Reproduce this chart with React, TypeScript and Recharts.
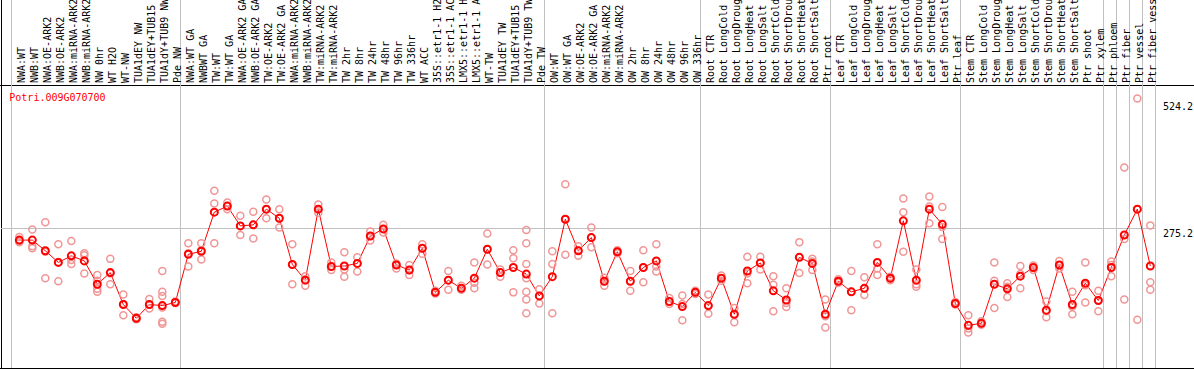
import { ComposedChart, Line, Scatter, XAxis, YAxis, ReferenceLine } from 'recharts'

// ─── Data ─────────────────────────────────────────────────────────────────────

const nwLabels = [
  'NWA:WT', 'NWB:WT', 'NWA:OE-ARK2', 'NWB:OE-ARK2', 'NWA:miRNA-ARK2', 'NWB:miRNA-ARK2',
  'NW 0hr', 'WT H2O', 'WT-NW', 'TUA1dEY NW', 'TUA1dEY+TUB15 NW', 'TUA1dY+TUB9 NW', 'Pde NW',
]
const nwMeans = [252, 252, 231, 208, 221, 211, 165, 188, 125, 98, 125, 123, 129]
const nwReps = [
  [258, 250, 248], [273, 240, 236], [287, 229, 177], [244, 209, 171], [250, 213, 205],
  [226, 222, 186], [183, 172, 156, 150], [215, 186, 165], [145, 126, 104], [100, 97, 96],
  [136, 125, 117], [191, 150, 142, 119, 91, 87], [131, 129, 128],
]

const twLabels = [
  'NWA:WT GA', 'NWBWT GA', 'TW:WT', 'TW:WT GA', 'NWA:OE-ARK2 GA', 'NWB:OE-ARK2 GA',
  'TW:OE-ARK2', 'TW:OE-ARK2 GA', 'NWA:miRNA-ARK2', 'NWB:miRNA-ARK2', 'TW:miRNA-ARK2',
  'TW:miRNA-ARK2', 'TW 2hr', 'TW 8hr', 'TW 24hr', 'TW 48hr', 'TW 96hr', 'TW 336hr', 'WT ACC',
  '35S::etr1-1 H2O', '35S::etr1-1 ACC', 'LMX5::etr1-1 H2O', 'LMX5::etr1-1 ACC', 'WT-TW',
  'TUA1dEY TW', 'TUA1dEY+TUB15 TW', 'TUA1dY+TUB9 TW', 'Pde TW',
]
const twMeans = [
  224, 230, 307, 319, 280, 282, 313, 295, 204, 173, 313, 200, 201, 206,
  260, 274, 203, 193, 236, 149, 173, 157, 177, 234, 188, 198, 185, 142,
]
const twReps = [
  [246, 226, 200], [246, 232, 214], [349, 324, 246], [326, 319, 313], [300, 280, 262],
  [308, 282, 255], [332, 313, 295], [313, 295, 277], [244, 204, 165], [181, 175, 162],
  [322, 313, 306], [208, 200, 193], [228, 194, 180], [218, 206, 190], [269, 260, 251],
  [282, 274, 267], [206, 203, 196], [203, 193, 183], [244, 236, 225], [152, 149, 147],
  [191, 173, 154], [162, 157, 154], [208, 168, 157], [265, 234, 204], [194, 188, 180],
  [232, 216, 149], [272, 246, 205, 177, 150, 135, 108], [155, 142, 127],
]

const owLabels = [
  'OW:WT', 'OW:WT GA', 'OW:OE-ARK2', 'OW:OE-ARK2 GA', 'OW:miRNA-ARK2', 'OW:miRNA-ARK2',
  'OW 2hr', 'OW 8hr', 'OW 24hr', 'OW 48hr', 'OW 96hr', 'OW 336hr',
]
const owMeans = [180, 293, 231, 257, 171, 229, 171, 198, 211, 131, 121, 149]
const owReps = [
  [230, 205, 108], [362, 293, 223], [240, 231, 221], [277, 257, 238], [178, 171, 162],
  [232, 229, 226], [191, 171, 152], [232, 198, 169], [244, 200, 190], [138, 131, 126],
  [143, 126, 94], [152, 149, 146],
]

const rootLabels = [
  'Root CTR', 'Root LongCold', 'Root LongDrought', 'Root LongHeat', 'Root LongSalt',
  'Root ShortCold', 'Root ShortDrought', 'Root ShortHeat', 'Root ShortSalt', 'Ptr root',
]
const rootMeans = [123, 177, 106, 191, 207, 152, 134, 218, 206, 106]
const rootReps = [
  [145, 122, 107], [182, 177, 172], [118, 106, 90], [219, 186, 167], [219, 207, 194],
  [181, 164, 112], [157, 128, 120], [248, 218, 187], [215, 210, 193], [135, 102, 80],
]

const leafLabels = [
  'Leaf CTR', 'Leaf LongCold', 'Leaf LongDrought', 'Leaf LongHeat', 'Leaf LongSalt',
  'Leaf ShortCold', 'Leaf ShortDrought', 'Leaf ShortHeat', 'Leaf ShortSalt', 'Ptr leaf',
]
const leafMeans = [171, 150, 157, 208, 177, 290, 173, 313, 283, 127]
const leafReps = [
  [175, 171, 168], [191, 150, 114], [179, 157, 144], [244, 196, 183], [180, 176, 173],
  [334, 307, 229], [194, 165, 160], [338, 318, 285], [317, 278, 254], [130, 127, 125],
]

const stemLabels = [
  'Stem CTR', 'Stem LongCold', 'Stem LongDrought', 'Stem LongHeat', 'Stem LongSalt',
  'Stem ShortCold', 'Stem ShortDrought', 'Stem ShortHeat', 'Stem ShortSalt', 'Ptr shoot', 'Ptr xylem',
]
const stemMeans = [84, 88, 165, 156, 181, 198, 114, 203, 125, 167, 133]
const stemReps = [
  [104, 78, 70], [92, 88, 85], [208, 172, 118], [167, 160, 140], [201, 185, 157],
  [202, 197, 193], [131, 112, 100], [211, 203, 196], [150, 121, 106], [208, 163, 129],
  [152, 134, 112],
]

const ptrLabels = ['Ptr phloem', 'Ptr fiber', 'Ptr vessel', 'Ptr fiber vessel']
const ptrMeans = [198, 262, 313, 201]
const ptrReps = [[210, 203, 181], [395, 254, 135], [531, 313, 95], [281, 169, 154]]

const yTicks = [0, 275.2, 524.2]
const geneId = 'Potri.009G070700'

// ─── Build ────────────────────────────────────────────────────────────────────

const groups = [
  { labels: nwLabels, means: nwMeans, reps: nwReps },
  { labels: twLabels, means: twMeans, reps: twReps },
  { labels: owLabels, means: owMeans, reps: owReps },
  { labels: rootLabels, means: rootMeans, reps: rootReps },
  { labels: leafLabels, means: leafMeans, reps: leafReps },
  { labels: stemLabels, means: stemMeans, reps: stemReps },
  // each Ptr tissue is its own block
  ...ptrLabels.map((l, i) => ({ labels: [l], means: [ptrMeans[i]], reps: [ptrReps[i]] })),
]

const MARK_OFFSET = 0.64 // marks sit a bit right of the column centre
const labels = groups.flatMap((g) => g.labels)
const means = groups.flatMap((g) => g.means)
const reps = groups.flatMap((g) => g.reps)
const rows = means.map((m, i) => ({ x: i + MARK_OFFSET, mean: m }))
const repPoints = reps.flatMap((vals, i) => vals.map((v) => ({ x: i + MARK_OFFSET, v })))
const tickXs = rows.map((r) => r.x)

const boundaries: number[] = [0]
groups.forEach((g) => boundaries.push(boundaries[boundaries.length - 1] + g.labels.length))

const MONO = '"DejaVu Sans Mono", monospace'
const GRID = '#c0c0c0'

// ─── Pieces ───────────────────────────────────────────────────────────────────

function HeaderTick(props: any) {
  const { x, index } = props
  return (
    <text
      x={x}
      y={83}
      dy={5.5}
      transform={`rotate(-90 ${x} 83)`}
      textAnchor="start"
      fontFamily={MONO}
      fontSize={10}
      fill="#000"
    >
      {labels[index]}
    </text>
  )
}

function ValueTick(props: any) {
  const { y, payload } = props
  return (
    <text x={1163} y={Math.min(y + 8.5, 365.7)} fontFamily={MONO} fontSize={10} fill="#000">
      {payload.value}
    </text>
  )
}

const separator = (p: any) => (
  <line
    x1={p.x1}
    x2={p.x2}
    y1={0}
    y2={Math.max(p.y1, p.y2)}
    stroke={GRID}
    strokeWidth={1}
    shapeRendering="crispEdges"
  />
)

const hGrid = (p: any) => (
  <line x1={1} x2={Math.max(p.x1, p.x2)} y1={p.y1} y2={p.y2} stroke={GRID} strokeWidth={1} shapeRendering="crispEdges" />
)

const repShape = (p: any) => (
  <circle cx={p.cx} cy={p.cy} r={3.5} fill="none" stroke="#f09696" strokeWidth={1.5} />
)

const frame: React.CSSProperties = { position: 'absolute', background: '#000' }

export default function App() {
  return (
    <div style={{ position: 'absolute', left: 0, top: 0, width: 1194, height: 370, background: '#fff' }}>
      <div style={{ ...frame, left: 1, top: 0, width: 1, height: 369 }} />
      <div style={{ ...frame, left: 0, top: 85, width: 1194, height: 1 }} />
      <div style={{ ...frame, left: 0, top: 368, width: 1194, height: 1 }} />
      <div style={{ position: 'absolute', left: 0, top: 0 }}>
        <ComposedChart width={1194} height={370} data={rows} margin={{ top: 0, right: 0, bottom: 2, left: 11 }}>
          <XAxis
            dataKey="x"
            type="number"
            orientation="top"
            height={86}
            domain={[0, 88]}
            ticks={tickXs}
            interval={0}
            tick={<HeaderTick />}
            tickLine={false}
            axisLine={false}
            allowDataOverflow
          />
          <YAxis
            orientation="right"
            width={39}
            domain={[0, 555.6]}
            ticks={yTicks}
            tick={<ValueTick />}
            tickLine={false}
            axisLine={false}
          />
          <ReferenceLine y={yTicks[1]} shape={hGrid} />
          {boundaries.map((b) => (
            <ReferenceLine key={b} x={b} shape={separator} />
          ))}
          <Scatter data={repPoints} dataKey="v" shape={repShape} isAnimationActive={false} />
          <Line
            dataKey="mean"
            stroke="#ff0000"
            strokeWidth={1}
            type="linear"
            dot={{ r: 3.5, stroke: '#ff0000', strokeWidth: 2, fill: 'none' }}
            activeDot={false}
            isAnimationActive={false}
          />
        </ComposedChart>
      </div>
      <svg width={200} height={110} style={{ position: 'absolute', left: 0, top: 0 }}>
        <text x={9.3} y={100.7} fontFamily={MONO} fontSize={10} fill="#ff0000">
          {geneId}
        </text>
      </svg>
    </div>
  )
}
